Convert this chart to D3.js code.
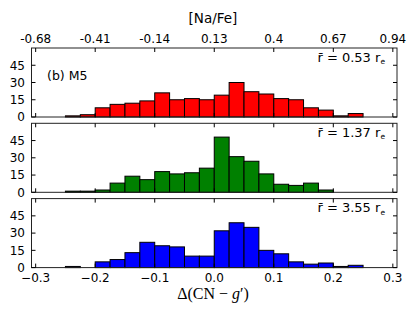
<!DOCTYPE html>
<html>
<head>
<meta charset="utf-8">
<script src="https://cdn.jsdelivr.net/npm/d3@7"></script>
<style>
  body { margin: 0; background: #fff; }
  svg { display: block; font-family: "DejaVu Sans", sans-serif; }
</style>
</head>
<body>
<svg id="chart" width="415" height="312"></svg>
<script>
// --- data ---
const binStart = -0.25;
const binWidth = 0.025;
const countsInner = [1, 2, 8, 11, 12, 14, 21, 15, 16, 15, 19, 30, 22, 20, 16, 15, 8, 6, 1, 3];
const countsMiddle = [1, 1, 2, 8, 14, 11, 18, 16, 17, 21, 48, 31, 27, 16, 7, 6, 8, 2, 0, 0];
const countsOuter = [1, 0, 5, 7, 13, 22, 19, 18, 10, 10, 32, 39, 35, 15, 12, 5, 3, 4, 1, 2];
const radiusLabels = ["0.53", "1.37", "3.55"];
const panelColors = ["#ff0000", "#008000", "#0000ff"];
const xTicks = [-0.3, -0.2, -0.1, 0.0, 0.1, 0.2, 0.3];
const xTickLabels = ["\u22120.3", "\u22120.2", "\u22120.1", "0.0", "0.1", "0.2", "0.3"];
const naFeLabels = ["-0.68", "-0.41", "-0.14", "0.13", "0.4", "0.67", "0.94"];
const yTicks = [0, 15, 30, 45];

// --- layout ---
const left = 31.5, right = 397;
const panelTop = 48, panelH = 69, panelStep = 75.3;
const tickLen = 4;

const svg = d3.select("#chart");
const x = d3.scaleLinear().domain([-0.307, 0.307]).range([left, right]);

const panels = [countsInner, countsMiddle, countsOuter];

panels.forEach((counts, i) => {
  const top = panelTop + i * panelStep;
  const bottom = top + panelH;
  const y = d3.scaleLinear().domain([0, 60]).range([bottom, top]);
  const g = svg.append("g");

  // bars
  g.selectAll("rect.bar").data(counts).join("rect")
    .attr("class", "bar")
    .attr("x", (d, k) => x(binStart + k * binWidth))
    .attr("width", (d, k) => x(binStart + (k + 1) * binWidth) - x(binStart + k * binWidth))
    .attr("y", d => y(d))
    .attr("height", d => y(0) - y(d))
    .attr("fill", panelColors[i])
    .attr("stroke", "#000")
    .attr("stroke-width", 1);

  // frame
  g.append("rect")
    .attr("x", left).attr("y", top)
    .attr("width", right - left).attr("height", panelH)
    .attr("fill", "none").attr("stroke", "#222").attr("stroke-width", 1);

  // inward ticks, x on top and bottom
  xTicks.forEach(t => {
    g.append("line").attr("x1", x(t)).attr("x2", x(t))
      .attr("y1", bottom).attr("y2", bottom - tickLen).attr("stroke", "#000");
    g.append("line").attr("x1", x(t)).attr("x2", x(t))
      .attr("y1", top).attr("y2", top + tickLen).attr("stroke", "#000");
  });
  // inward ticks, y on left and right
  yTicks.forEach(t => {
    g.append("line").attr("x1", left).attr("x2", left + tickLen)
      .attr("y1", y(t)).attr("y2", y(t)).attr("stroke", "#000");
    g.append("line").attr("x1", right).attr("x2", right - tickLen)
      .attr("y1", y(t)).attr("y2", y(t)).attr("stroke", "#000");
    g.append("text").attr("x", left - 6.5).attr("y", y(t) + 4.3)
      .attr("text-anchor", "end").attr("font-size", 12).text(t);
  });

  // radius annotation
  const ann = g.append("text").attr("x", 385).attr("y", top + 13.5)
    .attr("text-anchor", "end").attr("font-size", 13);
  ann.append("tspan").text("r\u0304 = " + radiusLabels[i] + "  r");
  ann.append("tspan").attr("font-size", 7.5).attr("dy", 2.5).text("e");

  if (i === 0) {
    g.append("text").attr("x", 47).attr("y", top + 31.5)
      .attr("font-size", 12.5).text("(b) M5");
  }
  if (i === panels.length - 1) {
    xTicks.forEach((t, k) => {
      g.append("text").attr("x", x(t)).attr("y", bottom + 14)
        .attr("text-anchor", "middle").attr("font-size", 12).text(xTickLabels[k]);
    });
  }
});

// top [Na/Fe] axis
xTicks.forEach((t, k) => {
  svg.append("text").attr("x", x(t)).attr("y", 42.5)
    .attr("text-anchor", "middle").attr("font-size", 12).text(naFeLabels[k]);
});
svg.append("text").attr("x", 213).attr("y", 23)
  .attr("text-anchor", "middle").attr("font-size", 13.5).text("[Na/Fe]");

// bottom axis label
const xl = svg.append("text").attr("x", 213).attr("y", 299)
  .attr("text-anchor", "middle").attr("font-size", 16)
  .attr("font-family", "'Liberation Serif', serif");
xl.append("tspan").text("\u0394(CN \u2212 ");
xl.append("tspan").attr("font-style", "italic").text("g");
xl.append("tspan").text("\u2032)");
</script>
</body>
</html>
